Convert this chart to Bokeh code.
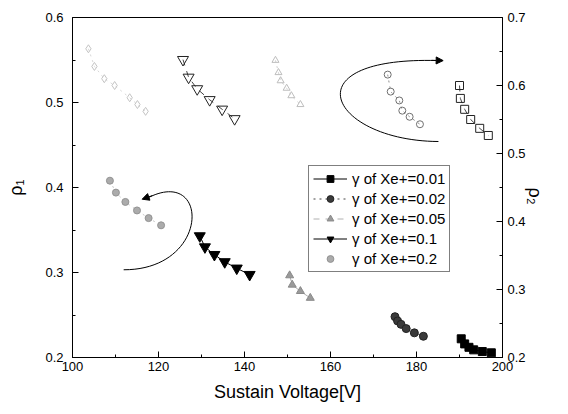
from bokeh.plotting import figure
from bokeh.models import (Range1d, LinearAxis, FixedTicker, Legend,
                          LegendItem, Arrow, NormalHead)
from bokeh.embed import file_html
from bokeh.resources import INLINE

# ---------------- data ----------------
labels = ["γ of Xe+=0.01", "γ of Xe+=0.02", "γ of Xe+=0.05", "γ of Xe+=0.1", "γ of Xe+=0.2"]

# rho1 (filled markers, left axis)
v_001_r1 = [190.4, 191.2, 192.2, 193.3, 195.3, 197.4]
rho1_001 = [0.222, 0.216, 0.212, 0.209, 0.207, 0.2055]
v_002_r1 = [175.0, 175.6, 176.4, 177.6, 179.5, 181.6]
rho1_002 = [0.248, 0.243, 0.239, 0.234, 0.229, 0.225]
v_005_r1 = [150.5, 151.1, 153.0, 155.3]
rho1_005 = [0.2965, 0.2855, 0.278, 0.270]
v_01_r1 = [129.6, 130.8, 133.0, 135.4, 138.2, 141.2]
rho1_01 = [0.343, 0.330, 0.321, 0.3125, 0.305, 0.2975]
v_02_r1 = [108.7, 110.1, 112.3, 115.0, 117.7, 120.6]
rho1_02 = [0.408, 0.394, 0.383, 0.373, 0.364, 0.3555]

# rho2 (hollow markers, right axis)
v_001_r2 = [190.0, 190.2, 191.2, 192.6, 194.7, 196.7]
rho2_001 = [0.600, 0.581, 0.565, 0.550, 0.537, 0.5265]
v_002_r2 = [173.3, 174.0, 176.0, 176.7, 178.4, 180.8]
rho2_002 = [0.616, 0.591, 0.578, 0.563, 0.554, 0.543]
v_005_r2 = [147.2, 147.9, 148.4, 149.8, 150.9, 153.0]
rho2_005 = [0.637, 0.619, 0.607, 0.596, 0.585, 0.572]
v_01_r2 = [125.7, 127.0, 129.0, 131.9, 134.8, 137.7]
rho2_01 = [0.638, 0.612, 0.595, 0.579, 0.565, 0.551]
v_02_r2 = [103.7, 105.1, 107.4, 109.8, 113.3, 115.1, 117.0]
rho2_02 = [0.654, 0.628, 0.610, 0.600, 0.582, 0.572, 0.562]

x_ticks = [100, 120, 140, 160, 180, 200]
x_minor = [110, 130, 150, 170, 190]
y1_ticks = [0.2, 0.3, 0.4, 0.5, 0.6]
y1_minor = [0.25, 0.35, 0.45, 0.55]
y2_ticks = [0.2, 0.3, 0.4, 0.5, 0.6, 0.7]
y2_minor = [0.25, 0.35, 0.45, 0.55, 0.65]

FONT = "Liberation Sans"

p = figure(frame_width=430, frame_height=340, output_backend="svg", toolbar_location=None,
           x_range=Range1d(100, 200), y_range=Range1d(0.2, 0.6),
           min_border_left=72, min_border_right=0, min_border_top=17,
           min_border_bottom=0)
p.extra_y_ranges = {"y2": Range1d(0.2, 0.7)}
p.xgrid.visible = False
p.ygrid.visible = False
p.outline_line_color = "black"
p.outline_line_width = 1
p.background_fill_color = "white"
p.border_fill_color = "white"

ax_r = LinearAxis(y_range_name="y2")
p.add_layout(ax_r, "right")

p.xaxis.ticker = FixedTicker(ticks=x_ticks, minor_ticks=x_minor)
p.yaxis[0].ticker = FixedTicker(ticks=y1_ticks, minor_ticks=y1_minor)
ax_r.ticker = FixedTicker(ticks=y2_ticks, minor_ticks=y2_minor)

for ax in p.xaxis + p.yaxis:
    ax.major_tick_in = 6
    ax.major_tick_out = 0
    ax.minor_tick_in = 3
    ax.minor_tick_out = 0
    ax.axis_line_color = "black"
    ax.major_tick_line_color = "black"
    ax.minor_tick_line_color = "black"
    ax.major_label_text_font = FONT
    ax.major_label_text_font_size = "13px"
    ax.major_label_text_color = "black"
    ax.axis_label_text_font = FONT
    ax.axis_label_text_font_style = "normal"
    ax.axis_label_text_color = "black"

p.xaxis.axis_label = "Sustain Voltage[V]"
p.xaxis.axis_label_text_font_size = "18px"
p.xaxis.major_label_standoff = 4
p.xaxis.axis_label_standoff = 8

p.yaxis[0].axis_label = "ρ₁"
p.yaxis[0].axis_label_text_font_size = "18px"
p.yaxis[0].major_label_standoff = 9
p.yaxis[0].axis_label_standoff = 16

ax_r.axis_label = "ρ₂"
ax_r.axis_label_text_font_size = "18px"
ax_r.major_label_standoff = 5
ax_r.axis_label_standoff = 6
try:
    ax_r.axis_label_orientation = -1.5707963
except Exception:
    pass

# ---------------- series ----------------
def series(x, y, marker, size, fill, line_col, ln_col, dash, rng="default", hollow=False):
    rs = []
    if ln_col is not None:
        rs.append(p.line(x, y, line_color=ln_col, line_dash=dash, line_width=1,
                         y_range_name=rng))
    rs.append(p.scatter(x, y, marker=marker, size=size,
                        fill_color=("white" if hollow else fill),
                        fill_alpha=(0 if hollow else 1),
                        line_color=line_col, line_width=1, y_range_name=rng))
    return rs

# filled (rho1)
r001 = series(v_001_r1, rho1_001, "square", 8, "black", "black", "black", "solid")
r002 = series(v_002_r1, rho1_002, "circle", 8, "#3a3a3a", "#222222", "#444444", "dotted")
r005 = series(v_005_r1, rho1_005, "triangle", 8, "#9a9a9a", "#8a8a8a", "#b0b0b0", "dashed")
r01 = series(v_01_r1, rho1_01, "inverted_triangle", 11, "black", "black", "black", "solid")
r02 = series(v_02_r1, rho1_02, "circle", 7, "#ababab", "#939393", "#c8c8c8", "dotted")

# hollow (rho2)
series(v_001_r2, rho2_001, "square", 8, None, "#222222", "#444444", "dashed", rng="y2", hollow=True)
series(v_002_r2, rho2_002, "circle", 7, None, "#707070", "#909090", "dotted", rng="y2", hollow=True)
series(v_005_r2, rho2_005, "triangle", 7, None, "#bdbdbd", "#d0d0d0", "dotted", rng="y2", hollow=True)
series(v_01_r2, rho2_01, "inverted_triangle", 11, None, "#222222", "#444444", "dashed", rng="y2", hollow=True)
series(v_02_r2, rho2_02, "diamond", 8, None, "#c4c4c4", "#d8d8d8", "dotted", rng="y2", hollow=True)

# ---------------- curved arrows ----------------
p.bezier(x0=[185.1], y0=[0.4541], x1=[184.6], y1=[0.5494],
         cx0=[160.0], cy0=[0.455], cx1=[150.0], cy1=[0.5536],
         line_color="black", line_width=1)
p.add_layout(Arrow(x_start=183.5, y_start=0.5496, x_end=186.2, y_end=0.5493,
                   line_color="black", line_width=1,
                   end=NormalHead(size=7, fill_color="black", line_color="black")))

p.bezier(x0=[111.9], y0=[0.3032], x1=[117.8], y1=[0.3885],
         cx0=[132.0], cy0=[0.303], cx1=[132.0], cy1=[0.424],
         line_color="black", line_width=1)
p.add_layout(Arrow(x_start=118.6, y_start=0.3905, x_end=116.2, y_end=0.3862,
                   line_color="black", line_width=1,
                   end=NormalHead(size=7, fill_color="black", line_color="black")))

# ---------------- legend ----------------
legend = Legend(items=[LegendItem(label=labels[0], renderers=r001),
                       LegendItem(label=labels[1], renderers=r002),
                       LegendItem(label=labels[2], renderers=r005),
                       LegendItem(label=labels[3], renderers=r01),
                       LegendItem(label=labels[4], renderers=[r02[1]])],
                location=(236, 85), orientation="vertical",
                label_text_font=FONT, label_text_font_size="15px",
                label_text_color="black",
                glyph_width=34, glyph_height=17, label_height=17,
                label_standoff=5, spacing=3, padding=4, margin=0,
                border_line_color="black", border_line_width=1,
                background_fill_color="white", background_fill_alpha=1)
p.add_layout(legend, "center")

open("out.html", "w").write(file_html(p, INLINE))
